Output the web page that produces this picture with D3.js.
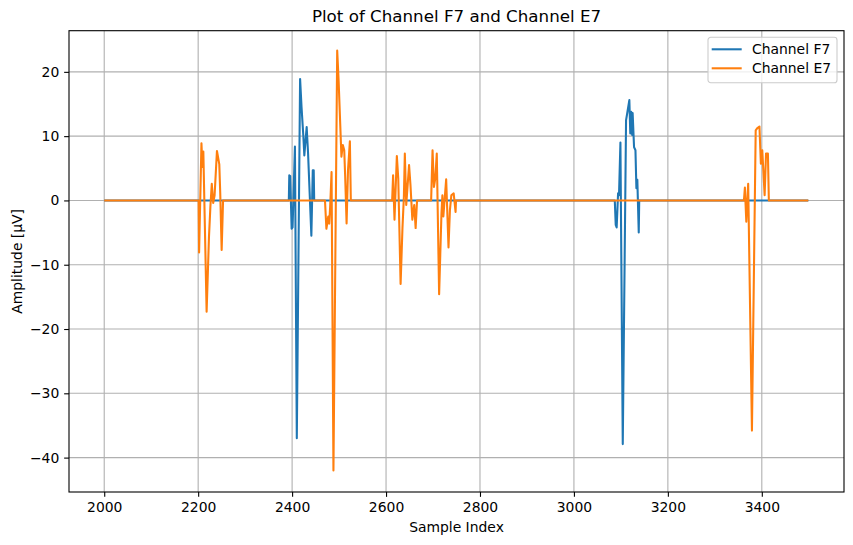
<!DOCTYPE html>
<html>
<head>
<meta charset="utf-8">
<script src="https://cdn.jsdelivr.net/npm/d3@7"></script>
<style>
  body { margin: 0; background: white; }
  svg text { font-family: "DejaVu Sans", sans-serif; fill: black; }
  .grid line { stroke: #b0b0b0; stroke-width: 1.1; }
  .axis path { display: none; }
  .axis line { stroke: black; stroke-width: 1.1; }
  .axis text { font-size: 13.9px; }
</style>
</head>
<body>
<svg id="chart"></svg>
<script>
// sample index / amplitude pairs (zero between bursts)
const f7Index = [2000,
  2393, 2394, 2396, 2399, 2401, 2406, 2410, 2417, 2420, 2424, 2426, 2431, 2434, 2441, 2444, 2446, 2447,
  3087, 3089, 3091, 3094, 3096, 3099, 3104, 3111, 3114, 3118, 3120, 3122, 3124, 3125, 3128, 3131, 3133, 3135, 3138, 3139,
  3499];
const f7Values = [0,
  0, 3.9, 3.8, -4.4, -4.2, 8.4, -37.0, 18.9, 14.6, 9.9, 7.0, 11.4, 7.3, -5.5, 4.7, 4.7, 0,
  0, -3.8, -4.2, 1.1, 0.8, 9.0, -37.9, 12.5, 13.8, 15.6, 10.4, 13.8, 10.2, 13.6, 8.3, 7.8, 1.9, 3.2, -5.0, 0,
  0];

const e7Index = [2000,
  2201, 2202, 2207, 2209, 2211, 2218, 2223, 2226, 2229, 2232, 2235, 2240, 2245, 2247, 2250, 2253,
  2470, 2473, 2477, 2479, 2481, 2484, 2488, 2496, 2499, 2505, 2508, 2511, 2513, 2516, 2519, 2523, 2525,
  2613, 2615, 2618, 2623, 2626, 2631, 2635, 2638, 2640, 2643, 2649, 2652, 2656, 2660, 2663, 2666,
  2696, 2699, 2702, 2705, 2708, 2713, 2718, 2720, 2722, 2728, 2733, 2736, 2739, 2744, 2748, 2749,
  3362, 3364, 3367, 3371, 3379, 3387, 3390, 3395, 3398, 3401, 3406, 3409, 3413, 3415,
  3499];
const e7Values = [0,
  0, -8.1, 8.9, 5.2, 7.6, -17.3, -5.7, -1.0, 2.6, -0.4, 0.8, 7.7, 5.6, 1.1, -7.7, 0,
  0, -4.4, -2.5, -3.6, -1.0, 4.4, -42.0, 23.3, 18.7, 6.8, 8.6, 7.8, 3.7, -3.6, 4.7, 9.2, 0,
  0, 3.9, -3.0, 6.9, 3.4, -13.0, -4.2, 0.6, 7.3, -0.7, 5.5, 2.4, -3.0, -0.7, -4.3, 0,
  0, 7.8, 2.1, 3.5, 7.3, -14.6, -2.0, 0.8, -2.5, 3.3, -7.3, -1.5, 0.8, 1.1, -1.8, 0,
  0, 2.0, -3.3, 2.6, -35.8, 10.9, 11.2, 11.5, 5.7, 7.8, 0.8, 7.3, 7.3, 0,
  0];

const xTicks = [2000, 2200, 2400, 2600, 2800, 3000, 3200, 3400];
const yTicks = [-40, -30, -20, -10, 0, 10, 20];
const seriesNames = ["Channel F7", "Channel E7"];
const seriesColors = ["#1f77b4", "#ff7f0e"];

const width = 853, height = 545;
const margin = { top: 30.7, right: 9, bottom: 53, left: 69 };
const plotW = width - margin.left - margin.right,
      plotH = height - margin.top - margin.bottom;

const svg = d3.select("#chart")
  .attr("width", width)
  .attr("height", height);

const xScale = d3.scaleLinear().domain([1925, 3575]).range([0, plotW]);
const yScale = d3.scaleLinear().domain([-45.35, 26.4]).range([plotH, 0]);

const g = svg.append("g")
  .attr("transform", `translate(${margin.left}, ${margin.top})`);

// grid
g.append("g").attr("class", "grid")
  .selectAll("line.gx").data(xTicks).enter().append("line")
  .attr("x1", d => xScale(d)).attr("x2", d => xScale(d))
  .attr("y1", 0).attr("y2", plotH);
g.select(".grid")
  .selectAll("line.gy").data(yTicks).enter().append("line")
  .attr("x1", 0).attr("x2", plotW)
  .attr("y1", d => yScale(d)).attr("y2", d => yScale(d));

// lines
const line = d3.line()
  .x(d => xScale(d[0]))
  .y(d => yScale(d[1]));

const series = [
  d3.zip(f7Index, f7Values),
  d3.zip(e7Index, e7Values)
];

series.forEach((s, i) => {
  g.append("path")
    .datum(s)
    .attr("fill", "none")
    .attr("stroke", seriesColors[i])
    .attr("stroke-width", 2.08)
    .attr("stroke-linejoin", "round")
    .attr("d", line);
});

// axes
const fmt = d => d < 0 ? "\u2212" + Math.abs(d) : String(d);

g.append("g")
  .attr("class", "axis")
  .attr("transform", `translate(0, ${plotH})`)
  .call(d3.axisBottom(xScale).tickValues(xTicks).tickSize(4.86).tickPadding(4.86).tickFormat(fmt));

g.append("g")
  .attr("class", "axis")
  .call(d3.axisLeft(yScale).tickValues(yTicks).tickSize(4.86).tickPadding(4.86).tickFormat(fmt));

// frame
g.append("rect")
  .attr("width", plotW).attr("height", plotH)
  .attr("fill", "none")
  .attr("stroke", "black")
  .attr("stroke-width", 1.1);

// title and labels
svg.append("text")
  .attr("x", margin.left + plotW / 2)
  .attr("y", 22)
  .attr("text-anchor", "middle")
  .style("font-size", "16.7px")
  .text("Plot of Channel F7 and Channel E7");

svg.append("text")
  .attr("x", margin.left + plotW / 2)
  .attr("y", 532)
  .attr("text-anchor", "middle")
  .style("font-size", "13.9px")
  .text("Sample Index");

svg.append("text")
  .attr("transform", `translate(21.5, ${margin.top + plotH / 2}) rotate(-90)`)
  .attr("text-anchor", "middle")
  .style("font-size", "13.9px")
  .text("Amplitude [\u00b5V]");

// legend
const legend = svg.append("g").attr("transform", "translate(708, 37.3)");
legend.append("rect")
  .attr("width", 129).attr("height", 45.5)
  .attr("rx", 2.8)
  .attr("fill", "white").attr("fill-opacity", 0.8)
  .attr("stroke", "#cccccc").attr("stroke-width", 1.1);

seriesNames.forEach((name, i) => {
  const y = 12 + i * 19;
  legend.append("line")
    .attr("x1", 3.7).attr("x2", 33.7)
    .attr("y1", y).attr("y2", y)
    .attr("stroke", seriesColors[i])
    .attr("stroke-width", 2.08);
  legend.append("text")
    .attr("x", 44)
    .attr("y", y)
    .attr("dy", "0.35em")
    .style("font-size", "13.9px")
    .text(name);
});
</script>
</body>
</html>
